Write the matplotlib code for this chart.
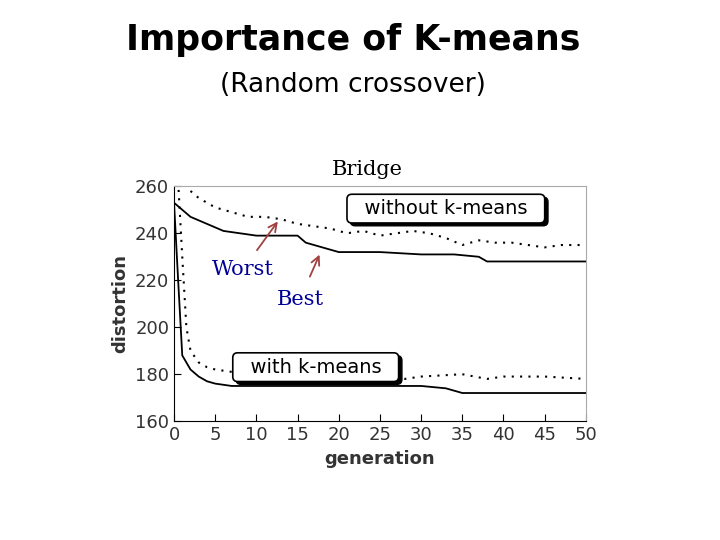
import matplotlib
matplotlib.use("Agg")
import matplotlib.pyplot as plt

# generations and distortion curves
gen_no_worst = [0, 1, 2, 3, 4, 5, 7, 9, 11, 13, 15, 17, 19, 21, 23, 25, 27, 29, 31, 33, 35, 37, 39, 41, 43, 45, 47, 50]
no_worst = [266, 262, 258, 255, 253, 251, 249, 247, 247, 246, 244, 243, 242, 240, 241, 239, 240, 241, 240, 238, 235, 237, 236, 236, 235, 234, 235, 235]
gen_no_best = [0, 2, 4, 6, 8, 10, 12, 15, 16, 18, 20, 25, 30, 34, 37, 38, 40, 45, 50]
no_best = [253, 247, 244, 241, 240, 239, 239, 239, 236, 234, 232, 232, 231, 231, 230, 228, 228, 228, 228]
gen_km_worst = [0.5, 1, 1.5, 2, 3, 4, 5, 7, 9, 12, 15, 20, 25, 28, 30, 35, 38, 40, 45, 50]
km_worst = [262, 230, 200, 190, 185, 183, 182, 181, 180, 180, 180, 179, 179, 178, 179, 180, 178, 179, 179, 178]
gen_km_best = [0, 0.5, 1, 2, 3, 4, 5, 7, 10, 20, 30, 33, 35, 40, 50]
km_best = [253, 220, 188, 182, 179, 177, 176, 175, 175, 175, 175, 174, 172, 172, 172]

fig = plt.figure(figsize=(7.2, 5.4), dpi=100)
fig.text(0.49, 0.926, "Importance of K-means", ha="center", va="center", fontsize=25, fontweight="bold")
fig.text(0.49, 0.843, "(Random crossover)", ha="center", va="center", fontsize=19)

ax = fig.add_axes([0.2417, 0.22, 0.572, 0.435])
ax.plot(gen_no_worst, no_worst, color="black", ls=(0, (1, 3)), lw=1.5)
ax.plot(gen_no_best, no_best, color="black", lw=1.3)
ax.plot(gen_km_worst, km_worst, color="black", ls=(0, (1, 3)), lw=1.5)
ax.plot(gen_km_best, km_best, color="black", lw=1.3)
ax.set_xlim(0, 50)
ax.set_ylim(160, 260)
ax.set_xticks(range(0, 51, 5))
ax.set_yticks(range(160, 261, 20))
ax.tick_params(labelsize=13, direction="in", length=5, labelcolor="#333333")
ax.set_xlabel("generation", fontsize=13, fontweight="bold", color="#333333")
ax.set_ylabel("distortion", fontsize=13, fontweight="bold", color="#333333")
for s in ["top", "right"]:
    ax.spines[s].set_color("#aaaaaa")

for txt, x, y in [("without k-means", domain_x, domain_y) for domain_x, domain_y in [(33, 250.5)]] + [("with k-means", 17.2, 183)]:
    ax.text(x + 0.4, y - 1.2, "  " + txt + "  ", fontsize=14, ha="center", va="center", color="black",
            bbox=dict(boxstyle="round,pad=0.25", fc="black", ec="black"), zorder=3)
    ax.text(x, y, "  " + txt + "  ", fontsize=14, ha="center", va="center", zorder=4,
            bbox=dict(boxstyle="round,pad=0.25", fc="white", ec="black", lw=1.2))

ax.text(23.5, 267, "Bridge", fontsize=15, family="DejaVu Serif", ha="center", va="center")
ax.annotate("Worst", xy=(12.8, 246), xytext=(8.4, 224.7), fontsize=15, family="DejaVu Serif",
            color="#000099", ha="center", va="center",
            arrowprops=dict(arrowstyle="->", color="#a04040", lw=1.3, shrinkA=6))
ax.annotate("Best", xy=(17.8, 232), xytext=(15.3, 212), fontsize=15, family="DejaVu Serif",
            color="#000099", ha="center", va="center",
            arrowprops=dict(arrowstyle="->", color="#a04040", lw=1.3, shrinkA=8))

fig.savefig("out.png", dpi=100)
